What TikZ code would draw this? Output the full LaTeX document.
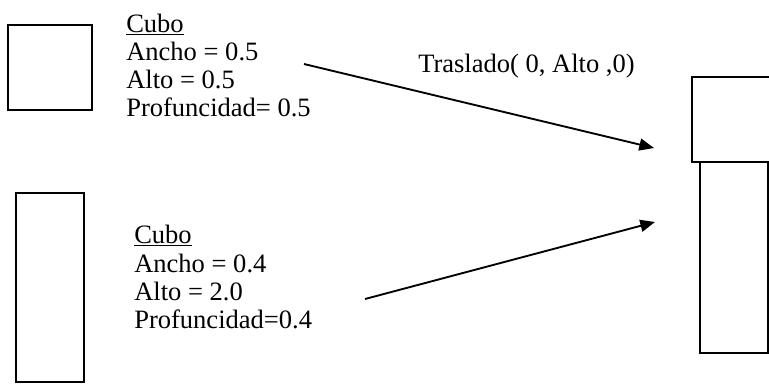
\documentclass[tikz,border=0pt]{standalone}
\usepackage{fontspec}
\setmainfont{Liberation Serif}
\usetikzlibrary{arrows.meta}
\begin{document}
\begin{tikzpicture}[x=0.75pt,y=-0.75pt,
  box/.style={draw=black,line width=1.4pt},
  txt/.style={anchor=base west,inner sep=0pt,font=\fontsize{19.9pt}{21pt}\selectfont},
  arr/.style={line width=1.4pt,-{Triangle[length=11pt,width=9pt]}}]
\useasboundingbox (0,0) rectangle (769,383);
\clip (0,0) rectangle (769,383);
\fill[white] (0,0) rectangle (769,383);

% left-hand cubes
\draw[box] (8,25) rectangle (92,110);
\draw[box] (16,193) rectangle (84,382);

% right-hand stacked result
\draw[box] (692,77) rectangle (790,162);
\draw[box] (700,162) rectangle (768,353);

% first cube description
\node[txt] (c1) at (126,32) {\underline{Cubo}};
\node[txt] (c1a) at (126,60) {Ancho = 0.5};
\node[txt] (c1b) at (126,88) {Alto = 0.5};
\node[txt] (c1c) at (126,116) {Profuncidad= 0.5};

% second cube description
\node[txt] (c2) at (134,243) {\underline{Cubo}};
\node[txt] (c2a) at (134,272) {Ancho = 0.4};
\node[txt] (c2b) at (134,300) {Alto = 2.0};
\node[txt] (c2c) at (134,328) {Profuncidad=0.4};

% translation label
\node[txt] (tr) at (418,72) {Traslado( 0, Alto ,0)};

% arrows
\coordinate (a1s) at (304,64);
\coordinate (a1e) at (654,148);
\coordinate (a2s) at (365,299);
\coordinate (a2e) at (655,222);
\draw[arr] (a1s) -- (a1e);
\draw[arr] (a2s) -- (a2e);
\end{tikzpicture}
\end{document}
